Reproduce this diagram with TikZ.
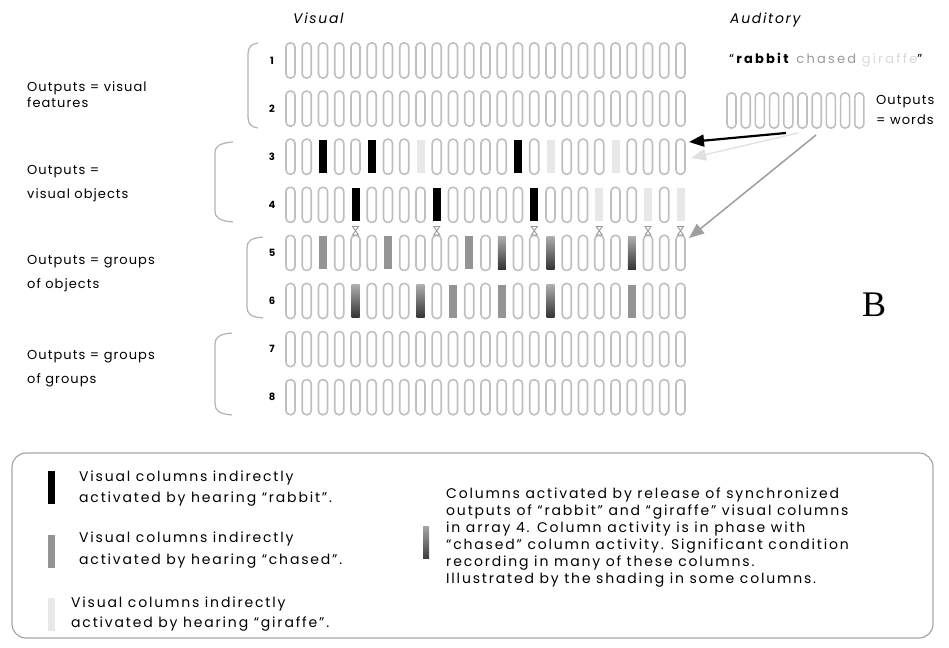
\documentclass[tikz,border=0pt]{standalone}
\usepackage{fontspec}
\setmainfont{Poppins}
\newfontfamily\seriffont{Liberation Serif}
\usetikzlibrary{arrows.meta}
\newcommand\lsp[1]{\addfontfeature{LetterSpace=#1}}
\begin{document}
\begin{tikzpicture}[x=1pt,y=-1pt,
  font=\fontsize{13}{17}\selectfont,
  col/.style={draw=black!25, line width=1.6pt, rounded corners=4pt, minimum width=9pt, minimum height=35pt, inner sep=0pt},
  act/.style={draw=none, minimum width=8pt, minimum height=33pt, inner sep=0pt},
  blk/.style={act, fill=black},
  chs/.style={act, fill=black!42},
  gir/.style={act, fill=black!9},
  grd/.style={act, top color=black!32, bottom color=black!80},
  brk/.style={draw=black!30, line width=1.2pt},
  lab/.style={anchor=west, align=left, inner sep=0pt},
  rnum/.style={font=\fontsize{10}{10}\selectfont\bfseries, inner sep=0pt},
  hgmark/.style={draw=black!40, line width=0.9pt},
  arr/.style={-{Triangle[length=15pt,width=12pt]}},
]
\useasboundingbox (0,0) rectangle (949,647);
% special columns
\foreach \r/\i/\s in {3/2/blk,3/5/blk,3/14/blk,3/8/gir,3/16/gir,3/20/gir,
  4/4/blk,4/9/blk,4/15/blk,4/19/gir,4/22/gir,4/24/gir,
  5/2/chs,5/6/chs,5/11/chs,5/13/grd,5/16/grd,5/21/grd,
  6/4/grd,6/8/grd,6/10/chs,6/13/chs,6/16/grd,6/21/chs}{
  \expandafter\xdef\csname cs-\r-\i\endcsname{\s}}
% visual arrays
\foreach \r in {1,...,8}{
  \node[rnum] (n\r) at (272,{60.5+48.1*(\r-1)}) {\r};
  \foreach \i in {0,...,24}{
    \ifcsname cs-\r-\i\endcsname
      \edef\st{\csname cs-\r-\i\endcsname}
    \else
      \def\st{col}
    \fi
    \node[\st] (c\r-\i) at ({290.5+16.25*\i},{60.5+48.1*(\r-1)}) {};
  }
}
% hourglass markers between arrays 4 and 5
\foreach \i in {4,9,15,19,22,24}{
  \draw[hgmark] ({290.5+16.25*\i-3},226.5) -- ({290.5+16.25*\i+3},226.5) -- ({290.5+16.25*\i-3},235) -- ({290.5+16.25*\i+3},235) -- cycle;
}
% brackets
\draw[brk] (258,43) .. controls (251,44) and (248,47) .. (248,54) -- (248,117) .. controls (248,124) and (251,127) .. (258,128);
\draw[brk] (233,142) .. controls (220,143) and (215,146) .. (215,153) -- (215,211) .. controls (215,218) and (220,221) .. (233,222);
\draw[brk] (263,237) .. controls (251,238) and (247,241) .. (247,248) -- (247,307) .. controls (247,314) and (251,317) .. (263,318);
\draw[brk] (232,333) .. controls (220,334) and (215,337) .. (215,344) -- (215,404) .. controls (215,411) and (220,414) .. (232,415);
% left labels
\node[lab, font=\fontsize{13}{16}\selectfont\lsp{8}] (l1) at (27,95) {Outputs = visual\\features};
\node[lab, font=\fontsize{13}{24}\selectfont\lsp{8}] (l2) at (27,184) {Outputs =\\visual objects};
\node[lab, font=\fontsize{13}{24}\selectfont\lsp{8}] (l3) at (27,274) {Outputs = groups\\of objects};
\node[lab, font=\fontsize{13}{24}\selectfont\lsp{8}] (l4) at (27,369) {Outputs = groups\\of groups};
% headers
\node[lab, font=\fontsize{14}{14}\selectfont\itshape\lsp{12}] (hv) at (293,18) {Visual};
\node[lab, font=\fontsize{14}{14}\selectfont\itshape\lsp{12}] (ha) at (730,20) {Auditory};
\node[lab, font=\fontsize{13}{13}\selectfont\lsp{17}] (q) at (729,60) {“\textbf{rabbit} \textcolor{black!40}{chased} \textcolor{black!15}{giraffe}”};
% auditory array
\foreach \i in {0,...,9}{
  \node[col] (a\i) at ({731.5+14.2*\i},110.5) {};
}
\node[lab, font=\fontsize{13}{20}\selectfont\lsp{8}] (ow) at (876,110) {Outputs\\= words};
% arrows
\coordinate (bs) at (786,133);
\coordinate (be) at (689,142);
\coordinate (ls) at (798,133);
\coordinate (le) at (691,158);
\coordinate (gs) at (816,135);
\coordinate (ge) at (689,238);
\draw[arr, draw=black!12, fill=black!12, line width=1.3pt] (ls) -- (le);
\draw[arr, draw=black!38, fill=black!38, line width=1.5pt] (gs) -- (ge);
\draw[arr, line width=2.2pt] (bs) -- (be);
% B
\node[font=\fontsize{36}{36}\selectfont\seriffont, inner sep=0pt] (B) at (874,305) {B};
% legend
\node[draw=black!35, line width=1.2pt, rounded corners=14pt, minimum width=921pt, minimum height=185pt, inner sep=0pt] (legend) at (472.5,545.5) {};
\node[act, minimum width=7pt, minimum height=33pt, fill=black] (lb1) at (51,487) {};
\node[act, minimum width=7pt, minimum height=33pt, fill=black!42] (lb2) at (51,551) {};
\node[act, minimum width=7pt, minimum height=33pt, fill=black!9] (lb3) at (51,614) {};
\node[act, minimum width=6pt, minimum height=32pt, top color=black!35, bottom color=black!75] (lb4) at (426,542) {};
\node[lab, font=\fontsize{14}{21}\selectfont\lsp{13}] (t1) at (79,489) {Visual columns indirectly\\activated by hearing “rabbit”.};
\node[lab, font=\fontsize{14}{22}\selectfont\lsp{13}] (t2) at (79,550) {Visual columns indirectly\\activated by hearing “chased”.};
\node[lab, font=\fontsize{14}{20}\selectfont\lsp{13}] (t3) at (71,614) {Visual columns indirectly\\activated by hearing “giraffe”.};
\node[lab, font=\fontsize{14}{17}\selectfont\lsp{13}] (t4) at (446,537.5) {Columns activated by release of synchronized\\outputs of “rabbit” and “giraffe” visual columns\\in array 4. Column activity is in phase with\\“chased” column activity. Significant condition\\recording in many of these columns.\\Illustrated by the shading in some columns.};
\end{tikzpicture}
\end{document}
